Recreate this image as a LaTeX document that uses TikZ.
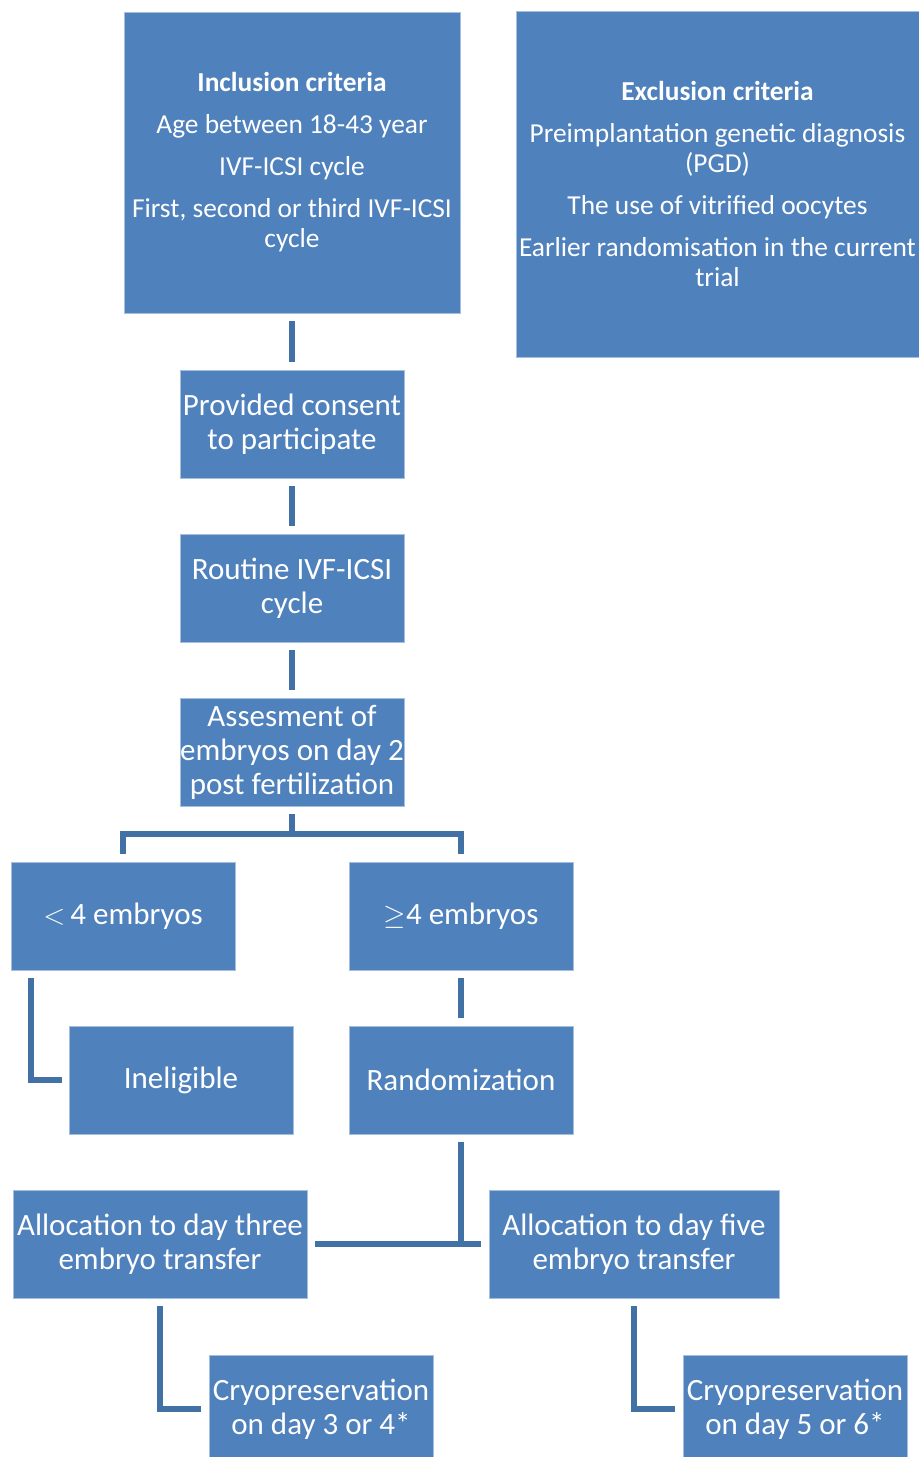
\documentclass[tikz,border=0pt]{standalone}
\usepackage{fontspec}
\setmainfont{Carlito}
\definecolor{boxblue}{RGB}{79,129,189}
\definecolor{boxline}{RGB}{167,191,222}
\definecolor{linkblue}{RGB}{66,113,166}

\begin{document}
\begin{tikzpicture}[x=0.5pt,y=-0.5pt,
		box/.style={fill=boxblue,draw=boxline,line width=0.4pt,text=white,align=center,inner sep=0pt,minimum width=112pt,minimum height=54pt,font=\fontsize{15.5}{17}\selectfont},
		crit/.style={box,font=\fontsize{13.7}{15}\selectfont},
		link/.style={draw=linkblue,line width=3pt,shorten <=4pt,shorten >=4pt}]
		\useasboundingbox (0,0) rectangle (919,1457);
		\node[crit,minimum width=168pt,minimum height=150.5pt] (incl) at (292,162.5) {\textbf{Inclusion criteria}\\[6pt]Age between 18-43 year\\[6pt]IVF-ICSI cycle\\[6pt]First, second or third IVF-ICSI\\cycle};
		\node[crit,minimum width=201.5pt,minimum height=173pt] (excl) at (717.5,184) {\textbf{Exclusion criteria}\\[6pt]Preimplantation genetic diagnosis\\(PGD)\\[6pt]The use of vitrified oocytes\\[6pt]Earlier randomisation in the current\\trial};
		\node[box] (consent) at (292,424) {Provided consent\\to participate};
		\node[box] (routine) at (292,588) {Routine IVF-ICSI\\cycle};
		\node[box] (assess) at (292,752) {Assesment of\\embryos on day 2\\post fertilization};
		\node[box] (lt) at (123,916) {$<$\,4 embryos};
		\node[box] (ge) at (461,916) {$\geq$4 embryos};
		\node[box] (inel) at (181,1080) {Ineligible};
		\node[box] (rand) at (461,1080) {Randomization};
		\node[box,minimum width=147pt] (three) at (160,1244) {Allocation to day three\\embryo transfer};
		\node[box,minimum width=145pt] (five) at (634,1244) {Allocation to day five\\embryo transfer};
		\node[box] (cryoA) at (321,1409) {Cryopreservation\\on day 3 or 4*};
		\node[box] (cryoB) at (795,1409) {Cryopreservation\\on day 5 or 6*};
		\coordinate (fork) at (292,834);
		\draw[link] (incl) -- (consent);
		\draw[link] (consent) -- (routine);
		\draw[link] (routine) -- (assess);
		\draw[link,shorten >=0pt] (assess.south) -- (fork);
		\draw[link] (lt.north) |- (fork) -| (ge.north);
		\draw[link,shorten >=3.5pt] ([xshift=10pt]lt.south west) |- (inel.west);
		\draw[link] (ge) -- (rand);
		\draw[link,shorten >=0pt] (rand.south) -- (rand.south |- three.east);
		\draw[link] (three) -- (five);
		\draw[link] (three.south) |- (cryoA.west);
		\draw[link] (five.south) |- (cryoB.west);
	\end{tikzpicture}
\end{document}
